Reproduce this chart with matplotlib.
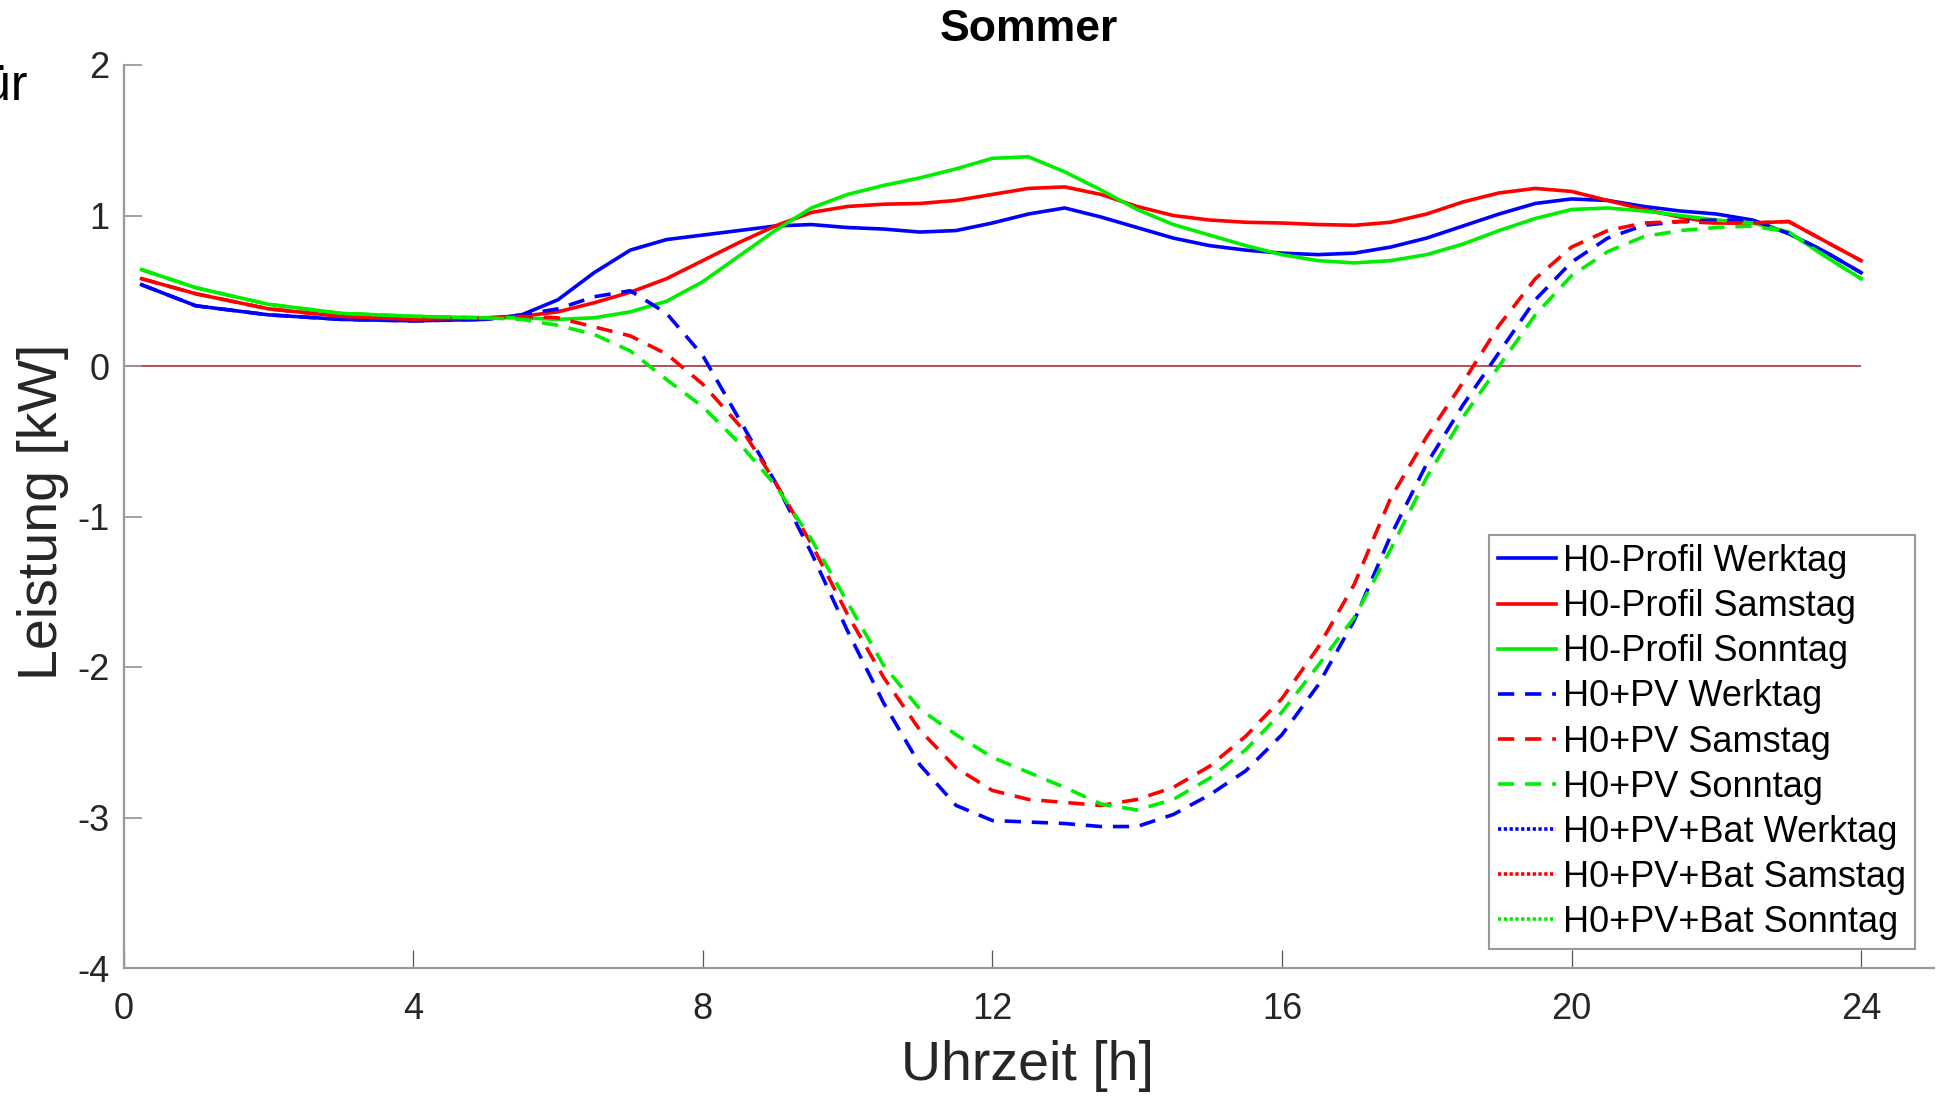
import numpy as np
import matplotlib
matplotlib.use("Agg")
import matplotlib.pyplot as plt

plt.rcParams['font.family'] = ['Liberation Sans', 'DejaVu Sans']
plt.rcParams['axes.unicode_minus'] = False

# Uhrzeit in Stunden
stunden = [0.25, 1, 2, 3, 4, 5, 5.5, 6, 6.5, 7, 7.5, 8, 8.5, 9, 9.5, 10, 10.5, 11, 11.5,
           12, 12.5, 13, 13.5, 14, 14.5, 15, 15.5, 16, 16.5, 17, 17.5, 18, 18.5, 19, 19.5,
           20, 20.5, 21, 21.5, 22, 22.5, 23, 23.5, 24]

# H0-Profil (Leistung in kW)
h0_werktag = [0.54, 0.40, 0.34, 0.31, 0.30, 0.31, 0.34, 0.44, 0.62, 0.77, 0.84, 0.87, 0.90,
              0.93, 0.94, 0.92, 0.91, 0.89, 0.90, 0.95, 1.01, 1.05, 0.99, 0.92, 0.85, 0.80,
              0.77, 0.75, 0.74, 0.75, 0.79, 0.85, 0.93, 1.01, 1.08, 1.11, 1.10, 1.06, 1.03,
              1.01, 0.97, 0.88, 0.76, 0.62]
h0_samstag = [0.58, 0.48, 0.38, 0.33, 0.31, 0.32, 0.33, 0.36, 0.42, 0.49, 0.58, 0.70, 0.82,
              0.93, 1.02, 1.06, 1.075, 1.08, 1.10, 1.14, 1.18, 1.19, 1.14, 1.06, 1.00, 0.97,
              0.955, 0.95, 0.94, 0.935, 0.955, 1.01, 1.09, 1.15, 1.18, 1.16, 1.10, 1.04, 0.99,
              0.95, 0.95, 0.96, 0.83, 0.70]
h0_sonntag = [0.64, 0.52, 0.41, 0.35, 0.33, 0.32, 0.32, 0.31, 0.32, 0.36, 0.43, 0.56, 0.73,
              0.90, 1.05, 1.14, 1.20, 1.25, 1.31, 1.38, 1.39, 1.29, 1.17, 1.04, 0.94, 0.87,
              0.80, 0.74, 0.70, 0.685, 0.70, 0.74, 0.81, 0.90, 0.98, 1.04, 1.05, 1.03, 1.00,
              0.97, 0.95, 0.89, 0.73, 0.58]

# H0 + PV
pv_werktag = [0.54, 0.40, 0.34, 0.31, 0.30, 0.31, 0.34, 0.38, 0.46, 0.50, 0.35, 0.07, -0.35,
              -0.77, -1.24, -1.76, -2.24, -2.65, -2.92, -3.02, -3.03, -3.04, -3.06, -3.06,
              -2.98, -2.85, -2.69, -2.45, -2.12, -1.69, -1.13, -0.65, -0.26, 0.09, 0.44, 0.69,
              0.85, 0.935, 0.96, 0.97, 0.97, 0.88, 0.76, 0.62]
pv_samstag = [0.58, 0.48, 0.38, 0.33, 0.31, 0.32, 0.33, 0.32, 0.26, 0.20, 0.08, -0.12, -0.39,
              -0.77, -1.18, -1.65, -2.07, -2.42, -2.67, -2.82, -2.88, -2.90, -2.92, -2.88,
              -2.80, -2.66, -2.46, -2.21, -1.87, -1.45, -0.88, -0.47, -0.11, 0.27, 0.58, 0.79,
              0.90, 0.95, 0.96, 0.95, 0.95, 0.96, 0.83, 0.70]
pv_sonntag = [0.64, 0.52, 0.41, 0.35, 0.33, 0.32, 0.31, 0.27, 0.21, 0.10, -0.09, -0.27, -0.51,
              -0.79, -1.15, -1.57, -1.99, -2.28, -2.45, -2.60, -2.70, -2.80, -2.91, -2.95,
              -2.88, -2.74, -2.55, -2.30, -1.99, -1.67, -1.22, -0.74, -0.34, 0.00, 0.34, 0.60,
              0.76, 0.86, 0.90, 0.92, 0.93, 0.89, 0.73, 0.58]

tage = ['Werktag', 'Samstag', 'Sonntag']
farben = ['#0000ff', '#ff0000', '#00ee00']

fig = plt.figure(figsize=(19.36, 10.97), dpi=100)
ax = fig.add_axes([123.5 / 1936, 1 - 968 / 1097, 1810 / 1936, 903 / 1097])

ax.hlines(0, 0, 24, color='#b4505c', lw=1.4, zorder=1)

for werte, tag, f in zip([h0_werktag, h0_samstag, h0_sonntag], tage, farben):
    ax.plot(stunden, werte, '-', color=f, lw=2.6, solid_joinstyle='round',
            label='H0-Profil ' + tag)
for werte, tag, f in zip([pv_werktag, pv_samstag, pv_sonntag], tage, farben):
    ax.plot(stunden, werte, color=f, lw=2.6, dashes=(4.5, 3), dash_joinstyle='round',
            label='H0+PV ' + tag)
# Batterie-Kurven sind im Bild nicht sichtbar, nur in der Legende
for tag, f in zip(tage, farben):
    ax.plot([], [], color=f, lw=2.6, linestyle=(0, (0.9, 0.7)), label='H0+PV+Bat ' + tag)

ax.set_xlim(0, 25)
ax.set_ylim(-4, 2)
ax.set_xticks([0, 4, 8, 12, 16, 20, 24])
ax.set_yticks([-4, -3, -2, -1, 0, 1, 2])

for s in ['top', 'right']:
    ax.spines[s].set_visible(False)
for s in ['left', 'bottom']:
    ax.spines[s].set_color('#9a9a9a')
    ax.spines[s].set_linewidth(1.6)

ax.tick_params(axis='y', direction='in', length=13, width=1.3, color='#9a9a9a',
               labelsize=26, labelcolor='#262626', pad=10)
ax.tick_params(axis='x', direction='in', length=13, width=0.9, color='#555555',
               labelsize=26, labelcolor='#262626', pad=17)

ax.set_xlabel('Uhrzeit [h]', fontsize=40, color='#262626', va='center')
ax.xaxis.set_label_coords(0.4995, -0.108)
ax.set_ylabel('Leistung [kW]', fontsize=40, color='#262626', va='center')
ax.yaxis.set_label_coords(-0.0445, 0.505)

ax.set_title('Sommer', fontsize=32, fontweight='bold', pad=17)

leg = ax.legend(loc='lower left', bbox_to_anchor=(1489 / 1936, 1 - 949 / 1097),
                bbox_transform=fig.transFigure, fontsize=26, handlelength=1.6,
                handletextpad=0.2, labelspacing=0.28, borderpad=0.25, borderaxespad=0,
                fancybox=False, framealpha=1, edgecolor='#999999')
leg.get_frame().set_linewidth(1.5)

# abgeschnittener Text am linken Rand
fig.text(28 / 1936, 1 - 100 / 1097, 'für', ha='right', va='baseline', fontsize=36)

fig.savefig('out.png', dpi=100)
